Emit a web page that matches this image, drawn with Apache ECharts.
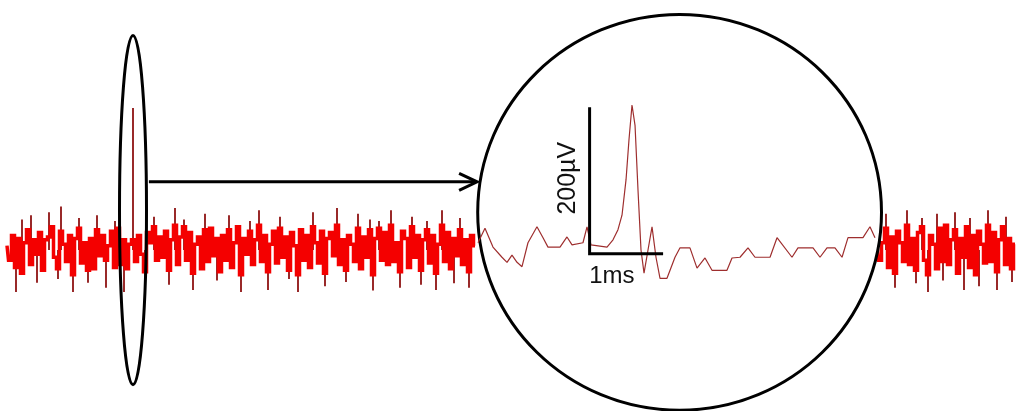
<!DOCTYPE html>
<html><head><meta charset="utf-8">
<script src="https://cdn.jsdelivr.net/npm/echarts@6/dist/echarts.min.js"></script>
<style>html,body{margin:0;padding:0;background:#fff}#c{width:1019px;height:411px}</style>
</head><body><div id="c"></div><script>
// Wide-band recording (µV), core band, one value per sample, left of the zoom window
const leftBand = [
  6, -14, 20, -24, 16, -32, 10, 28, -20, 14,
  -6, 24, -28, 14, 18, 32, -10, -26, 26, 8,
  -16, 20, -34, 16, 30, -18, 10, -28, 16, -26,
  28, -8, 20, -14, 6, 26, -24, 30, -20, 14,
  -26, 8, 14, -16, 20, -6, -30, 24, 10, 32,
  -14, 18, -10, 26, -28, 14, 34, -20, 18, 32,
  -14, 24, -32, 8, 18, -26, 28, -16, 30, -8,
  16, -30, 20, -14, 28, -24, 10, 32, -34, 16,
  -6, 26, -20, 14, 34, -16, 20, -30, 8, 26,
  -18, 30, -10, 18, -28, 24, 6, -34, 28, -14,
  20, -24, 32, 10, -18, 26, -32, 16, 24, -8,
  34, -20, 14, -28, 20, 8, -16, 30, -26, 18,
  -10, 28, -34, 16, 30, -14, 24, -20, 34, -16,
  10, -30, 26, 16, -24, 32, -10, 20, -28, 14,
  28, -18, 20, -32, 8, 34, -16, 24, -26, 16,
  -8, 28, -20, 14, -30, 20, 6
];
// Core band right of the zoom window (µV)
const rightBand = [
  6, -14, 10, 30, -24, 18, -32, 26, 10, -16,
  34, -20, 16, -28, 24, 32, -14, -34, 20, 8,
  -26, 30, -16, 34, -20, 14, 28, -32, 16, -10,
  32, -24, 20, -34, 26, 8, -18, 34, -16, 24,
  -30, 14, 32, -20, 16, -26, 8
];
const rightStartSample = 290;
const totalSamples = 336;
const spikeSample = 42;

// Brief excursions beyond the band: sample index and peak (µV)
const spikeSamples = [
  3, 5, 8, 10, 14, 17, 18, 22, 24, 27, 30, 33, 36, 39, 42, 46, 49, 54, 56, 59,
  62, 66, 70, 74, 78, 81, 84, 87, 91, 94, 97, 102, 106, 110, 113, 117, 121, 122, 124, 128,
  131, 135, 138, 140, 143, 145, 149, 151, 154,
  293, 296, 300, 303, 305, 307, 310, 312, 316, 319, 321, 324, 327, 330, 333, 335
];
const spikePeaks = [
  -58, 42, 48, -45, 52, -40, 60, -58, 44, -45, 48, -52, 40, -58, 196, -55, 46, -48, 58, 42,
  -55, 50, -42, 48, -58, 40, 55, -55, 46, -40, -58, 52, -50, 58, -44, 50, 42, -56, 40, 55,
  -52, 46, -48, 40, -55, 55, -46, 44, -52,
  50, -52, 55, -46, 44, -58, 50, -42, 52, -55, 44, -50, 55, -55, 46, -44
];

// Zoomed spike waveform: time (ms) and amplitude (µV)
const insetTimeMs = [
  0.000, 0.097, 0.208, 0.333, 0.403, 0.472, 0.542, 0.611, 0.694, 0.819,
  0.903, 0.972, 1.139, 1.236, 1.306, 1.458, 1.514, 1.569, 1.792, 1.875,
  1.944, 2.000, 2.056, 2.097, 2.139, 2.181, 2.222, 2.264, 2.306, 2.361,
  2.417, 2.472, 2.528, 2.625, 2.736, 2.806, 2.944, 3.042, 3.153, 3.250,
  3.458, 3.528, 3.639, 3.750, 3.847, 4.056, 4.153, 4.361, 4.444, 4.653,
  4.750, 4.847, 4.958, 5.056, 5.139, 5.347, 5.444, 5.514
];
const insetMicroVolts = [
  10, 30, 4, -10, -17, -7, -17, -23, 10, 32,
  17, 4, 4, 18, 7, 10, 32, 7, 4, 14,
  28, 48, 97, 152, 200, 172, 83, 0, -32, 0,
  32, -10, -39, -39, -10, 3, 3, -25, -11, -28,
  -28, -11, -10, 3, -10, -10, 17, -10, 3, 3,
  -10, 3, 3, -10, 17, 17, 32, 17
];

// Scale bar (1 ms × 200 µV) and its labels
const scaleBarMs = [1.55, 2.55];
const scaleBarMicroVolts = [-5, 195];
const scaleLabels = ['200µV', '1ms'];

const chart = echarts.init(document.getElementById('c'), null, {renderer: 'canvas'});

const yAxisBase = {type: 'value', min: -200, max: 300, show: false};
const bandStyle = {color: '#f40000', width: 3.5, join: 'miter'};
chart.setOption({
  animation: false,
  backgroundColor: '#fff',
  grid: [
    {left: 7, width: 1008, top: 32.5, height: 362.5},
    {left: 478, width: 403.2, top: 32.5, height: 362.5}
  ],
  xAxis: [
    {type: 'value', min: 0, max: totalSamples, show: false, gridIndex: 0},
    {type: 'value', min: 0, max: 5.6, show: false, gridIndex: 1}
  ],
  yAxis: [
    Object.assign({gridIndex: 0}, yAxisBase),
    Object.assign({gridIndex: 1}, yAxisBase)
  ],
  series: [
    {
      type: 'bar', xAxisIndex: 0, yAxisIndex: 0, barWidth: 1.8, z: 1,
      itemStyle: {color: '#8e1212'},
      data: spikeSamples.map((s, i) => [s, spikePeaks[i]])
    },
    {
      type: 'line', xAxisIndex: 0, yAxisIndex: 0, step: 'middle', showSymbol: false, z: 2,
      lineStyle: bandStyle,
      data: leftBand.map((v, i) => [i, v])
    },
    {
      type: 'line', xAxisIndex: 0, yAxisIndex: 0, step: 'middle', showSymbol: false, z: 2,
      lineStyle: bandStyle,
      data: rightBand.map((v, i) => [rightStartSample + i, v])
    },
    {
      type: 'line', xAxisIndex: 1, yAxisIndex: 1, showSymbol: false, z: 10,
      lineStyle: {color: '#9e2e2e', width: 1.2},
      data: insetTimeMs.map((t, i) => [t, insetMicroVolts[i]])
    },
    {
      type: 'line', xAxisIndex: 1, yAxisIndex: 1, showSymbol: false, z: 11,
      lineStyle: {color: '#000', width: 3, cap: 'square', join: 'miter'},
      data: [[scaleBarMs[0], scaleBarMicroVolts[1]], [scaleBarMs[0], scaleBarMicroVolts[0]], [scaleBarMs[1], scaleBarMicroVolts[0]]]
    }
  ]
});

// Annotations, defined in data units and projected through the axes
const px = (pt, g) => chart.convertToPixel({gridIndex: g}, pt);
const spikeMark = {center: [spikeSample, 55], half: [4.5, 241]};
const zoomWindow = {center: [224.2, 52], half: [67.3, 273]};
const arrowFrom = [47.3, 94], arrowTo = [156.7, 94];

function ell(spec) {
  const c = px(spec.center, 0);
  const e = px([spec.center[0] + spec.half[0], spec.center[1] + spec.half[1]], 0);
  return {cx: c[0], cy: c[1], rx: e[0] - c[0], ry: c[1] - e[1]};
}
const a0 = px(arrowFrom, 0), a1 = px(arrowTo, 0);
const vLab = px([1.25, 99], 1);
const hLab = px([1.86, -37], 1);
const font = 'Liberation Sans, Arial, sans-serif';

chart.setOption({
  graphic: {elements: [
    {type: 'ellipse', z: 5, shape: ell(zoomWindow), style: {fill: '#fff', stroke: '#000', lineWidth: 3}},
    {type: 'ellipse', z: 20, shape: ell(spikeMark), style: {fill: 'none', stroke: '#000', lineWidth: 3}},
    {type: 'line', z: 20, shape: {x1: a0[0], y1: a0[1], x2: a1[0] - 2, y2: a1[1]}, style: {stroke: '#000', lineWidth: 3}},
    {type: 'polyline', z: 20, shape: {points: [[a1[0] - 18, a1[1] - 8.5], [a1[0], a1[1]], [a1[0] - 18, a1[1] + 8.5]]}, style: {stroke: '#000', lineWidth: 3, fill: 'none'}},
    {type: 'text', z: 20, x: vLab[0], y: vLab[1], rotation: Math.PI / 2,
     style: {text: scaleLabels[0], fill: '#111', fontSize: 25, fontFamily: font, align: 'center', verticalAlign: 'middle', textAlign: 'center', textVerticalAlign: 'middle'}},
    {type: 'text', z: 20, x: hLab[0], y: hLab[1],
     style: {text: scaleLabels[1], fill: '#111', fontSize: 24, fontFamily: font, align: 'center', verticalAlign: 'middle', textAlign: 'center', textVerticalAlign: 'middle'}}
  ]}
});
</script></body></html>
